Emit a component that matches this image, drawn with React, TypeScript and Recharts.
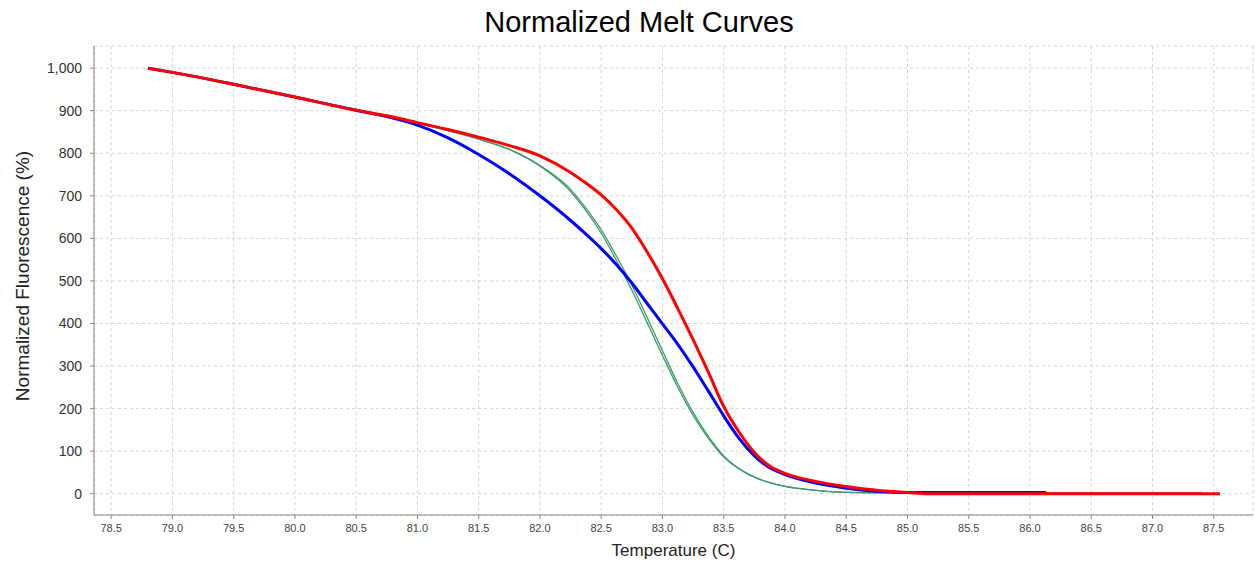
import React from "react";
import { LineChart, Line, XAxis, YAxis, CartesianGrid } from "recharts";

// temperature grid (C) shared by all curves
const temps = [
  78.8, 79.0, 79.5, 80.0, 80.5, 80.75, 81.0, 81.25, 81.5, 81.75, 82.0, 82.25,
  82.375, 82.5, 82.625, 82.75, 82.875, 83.0, 83.125, 83.25, 83.375, 83.5,
  83.625, 83.75, 83.875, 84.0, 84.25, 84.5, 84.75, 85.0, 85.17, 86.13, 87.4,
  87.55,
];

const redCurve = [
  1000, 990, 962, 932, 901, 888, 872, 856, 838, 818, 794, 755, 730, 702, 667,
  624, 568, 505, 435, 362, 285, 205, 145, 97, 65, 48, 29, 17, 8, 3, 0, 0, 0, 0,
];

const blueCurve = [
  1000, 990, 962, 932, 901, 886, 866, 836, 797, 752, 700, 642, 610, 576, 538,
  495, 447, 399, 351, 298, 241, 183, 130, 89, 61, 45, 25, 13, 6, 3, 3, 3, null,
  null,
];

const greenCurveA = [
  1000, 990, 962, 932, 901, 888, 870, 853, 833, 809, 770, 710, 665, 612, 548,
  478, 402, 325, 250, 184, 130, 86, 58, 39, 26, 17, 8, 3, 2, 2, 2, 2, 2, null,
];

const greenCurveB = [
  1000, 990, 962, 932, 901, 888, 870, 853, 833, 809, 771, 715, 671, 620, 558,
  490, 414, 336, 259, 191, 135, 89, 59, 39, 26, 17, 8, 3, 2, 2, 2, 2, 2, null,
];

const xTicks = [
  78.5, 79.0, 79.5, 80.0, 80.5, 81.0, 81.5, 82.0, 82.5, 83.0, 83.5, 84.0, 84.5,
  85.0, 85.5, 86.0, 86.5, 87.0, 87.5,
];
const yTicks = [0, 100, 200, 300, 400, 500, 600, 700, 800, 900, 1000];

const rows = temps.map((t, i) => ({
  t,
  red: redCurve[i],
  blue: blueCurve[i],
  greenA: greenCurveA[i],
  greenB: greenCurveB[i],
}));

const font = "'Liberation Sans', Arial, sans-serif";

export default function App() {
  return (
    <div
      style={{
        position: "fixed",
        left: 0,
        top: 0,
        width: 1255,
        height: 564,
        background: "#fff",
        fontFamily: font,
      }}
    >
      <div
        style={{
          position: "absolute",
          left: 0,
          width: 1278,
          top: 8,
          lineHeight: 1,
          textAlign: "center",
          fontSize: 29,
          color: "#000",
        }}
      >
        Normalized Melt Curves
      </div>
      <div
        style={{
          position: "absolute",
          left: 94,
          width: 1159,
          top: 541,
          textAlign: "center",
          fontSize: 17,
          color: "#222",
        }}
      >
        Temperature (C)
      </div>
      <div
        style={{
          position: "absolute",
          left: 23,
          top: 276,
          transform: "translate(-50%, -50%) rotate(-90deg)",
          whiteSpace: "nowrap",
          fontSize: 19,
          color: "#222",
        }}
      >
        Normalized Fluorescence (%)
      </div>
      <LineChart
        width={1255}
        height={564}
        data={rows}
        margin={{ top: 46, right: 2, left: 0, bottom: 0 }}
      >
        <CartesianGrid stroke="#d4d4d4" strokeDasharray="3 3" />
        <XAxis
          dataKey="t"
          type="number"
          domain={[78.36, 87.82]}
          allowDataOverflow
          ticks={xTicks}
          tickFormatter={(v) => Number(v).toFixed(1)}
          height={49}
          tickSize={4}
          tickMargin={5}
          stroke="#888"
          tick={{ fill: "#444", fontSize: 11, fontFamily: font }}
        />
        <XAxis
          xAxisId="top"
          dataKey="t"
          type="number"
          orientation="top"
          domain={[78.36, 87.82]}
          height={0}
          tick={false}
          tickLine={false}
          stroke="#c8c8c8"
        />
        <YAxis
          type="number"
          domain={[-50, 1052]}
          allowDataOverflow
          ticks={yTicks}
          tickFormatter={(v) => Number(v).toLocaleString("en-US")}
          width={94}
          tickSize={4}
          tickMargin={8}
          stroke="#888"
          tick={{ fill: "#333", fontSize: 14, fontFamily: font }}
        />
        <Line
          type="monotone"
          dataKey="greenA"
          stroke="#3f9a6a"
          strokeWidth={1.3}
          dot={false}
          isAnimationActive={false}
        />
        <Line
          type="monotone"
          dataKey="greenB"
          stroke="#3f9a6a"
          strokeWidth={1.3}
          dot={false}
          isAnimationActive={false}
        />
        <Line
          type="monotone"
          dataKey="blue"
          stroke="#0000ff"
          strokeWidth={3}
          dot={false}
          isAnimationActive={false}
        />
        <Line
          type="monotone"
          dataKey="red"
          stroke="#ff0000"
          strokeWidth={3}
          dot={false}
          isAnimationActive={false}
        />
      </LineChart>
    </div>
  );
}
